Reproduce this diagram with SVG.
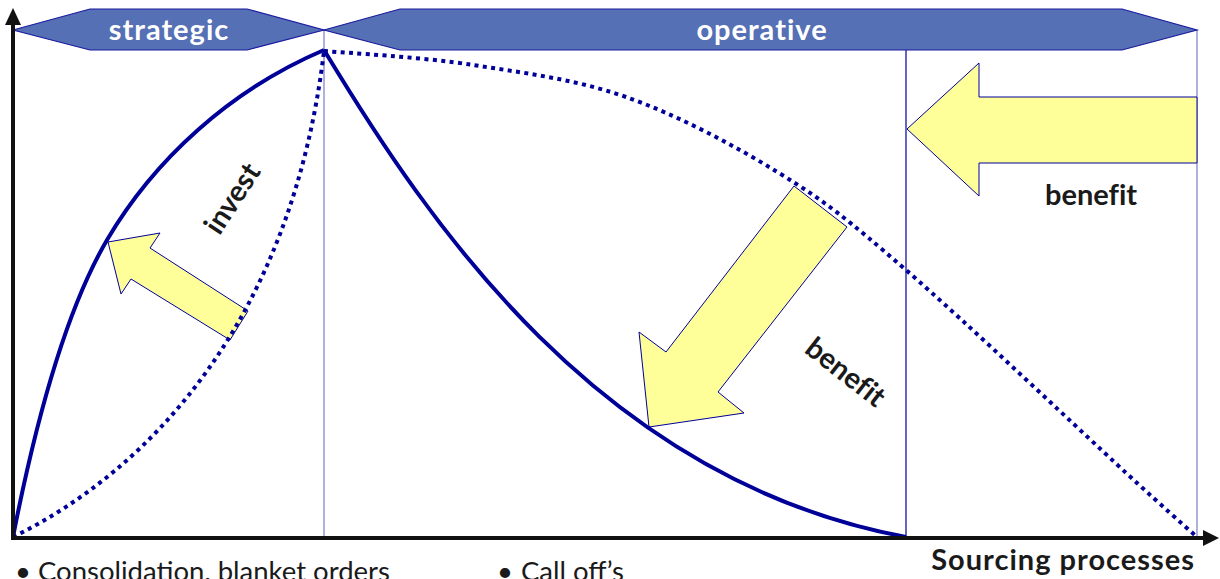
<svg xmlns="http://www.w3.org/2000/svg" width="1220" height="579" viewBox="0 0 1220 579">
  <style>
    .banner { fill: #5570B4; stroke: #1A1A9E; stroke-width: 1.2; }
    .bannertext { font-family: Lato, "Open Sans", "DejaVu Sans", sans-serif; font-weight: bold; font-size: 29px; letter-spacing: 1px; fill: #FFFFFF; text-anchor: middle; }
    .vline-light { stroke: #7C7CCC; stroke-width: 1.2; }
    .vline-dark { stroke: #000099; stroke-width: 1.2; }
    .axis { stroke: #111111; stroke-width: 4; fill: none; }
    .axishead { fill: #111111; }
    .solid { fill: none; stroke: #000099; stroke-width: 4; stroke-linejoin: round; }
    .dotted { fill: none; stroke: #000099; stroke-width: 4; stroke-dasharray: 4 4.4; }
    .bigarrow { fill: #FFFF99; stroke: #000099; stroke-width: 1; stroke-linejoin: miter; }
    .label { font-family: Lato, "Open Sans", "DejaVu Sans", sans-serif; font-weight: bold; font-size: 29px; fill: #1A1A1A; font-variant-ligatures: none; }
    .bullet { font-family: Lato, "Open Sans", "DejaVu Sans", sans-serif; font-size: 27.5px; fill: #1A1A1A; }
  </style>

  <rect x="0" y="0" width="1220" height="579" fill="#FFFFFF"/>

  <!-- section divider lines -->
  <g id="dividers">
    <line class="vline-light" x1="324" y1="30" x2="324" y2="537"/>
    <line class="vline-dark" x1="906" y1="50" x2="906" y2="537"/>
    <line class="vline-light" x1="1197" y1="30" x2="1197" y2="537"/>
  </g>

  <!-- phase banners -->
  <g id="node-strategic">
    <polygon class="banner" points="13,30 90,9 247,9 324,30 247,50 90,50"/>
    <text class="bannertext" x="169" y="40">strategic</text>
  </g>
  <g id="node-operative">
    <polygon class="banner" points="324,30 400,9 1122,9 1197,30 1122,50 400,50"/>
    <text class="bannertext" x="762" y="40">operative</text>
  </g>

  <!-- yellow block arrows -->
  <g id="node-arrow-invest">
    <polygon class="bigarrow" points="108,242 160,233 150,248 248,311 230,340 131,279 121,294"/>
  </g>
  <g id="node-arrow-benefit-mid">
    <polygon class="bigarrow" points="794,186 847,227 718,392 744,413 649,427 639,332 666,352"/>
  </g>
  <g id="node-arrow-benefit-right">
    <polygon class="bigarrow" points="907,129 979,63 979,97 1197,97 1197,163 979,163 979,196"/>
  </g>

  <!-- curves -->
  <g id="connectors">
    <path class="solid" d="M13,537 C30,450 60,320 107,240 C154,160 230,90 324,50"/>
    <path class="solid" d="M324,50 C428,222 600,480 906,537"/>
    <path class="dotted" d="M13,537 C150,470 292,320 324,51"/>
    <path class="dotted" d="M324,51 C348,53 422,57 473,65 C524,73 575,79 626,97 C677,115 732,144 779,173 C826,202 846,218 906,270 C966,322 1088,438 1137,483 C1160,504 1180,522 1197,537"/>
  </g>

  <!-- axes -->
  <g id="axes">
    <line class="axis" x1="13" y1="540" x2="13" y2="24"/>
    <polygon class="axishead" points="5,25 21,25 13,8"/>
    <line class="axis" x1="11" y1="538" x2="1204" y2="538"/>
    <polygon class="axishead" points="1203,530 1203,546 1219,538"/>
  </g>

  <!-- labels -->
  <g id="labels">
    <text class="label" transform="translate(233,199) rotate(-57)" text-anchor="middle" y="9">invest</text>
    <text class="label" transform="translate(845,373) rotate(38)" text-anchor="middle" y="9">benefit</text>
    <text class="label" x="1091" y="205" text-anchor="middle">benefit</text>
    <text class="label" x="1195" y="570" text-anchor="end" font-size="31" letter-spacing="1">Sourcing processes</text>
    <text class="bullet" x="15" y="581">•</text>
    <text class="bullet" x="38" y="581">Consolidation, blanket orders</text>
    <text class="bullet" x="497" y="581">•</text>
    <text class="bullet" x="521" y="581">Call off’s</text>
  </g>
</svg>
